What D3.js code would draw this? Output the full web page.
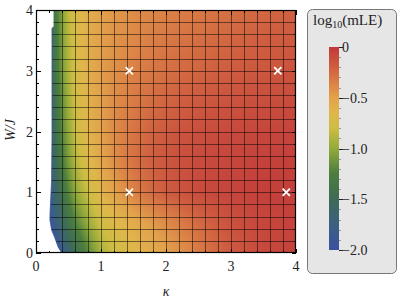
<!DOCTYPE html>
<html><head><meta charset="utf-8">
<script src="https://cdn.jsdelivr.net/npm/d3@7"></script>
<style>body{margin:0;background:#fff}svg{display:block}</style>
</head><body><svg id="c" width="399" height="302"></svg>
<script>
// ---- data ----
const kappaNodes = [0.2,0.3,0.4,0.5,0.6,0.8,1.0,1.2,1.4,1.6,1.8,2.0,2.2,2.5,3.0,3.5,4.0];
const wNodes = [0,0.25,0.5,1,1.5,2,3,4];
const logMLE = [
  [-2.3,-2.05,-1.85,-1.65,-1.48,-1.2,-0.92,-0.8,-0.7,-0.62,-0.56,-0.5,-0.44,-0.33,-0.18,-0.09,-0.05],
  [-2.1,-1.88,-1.7,-1.52,-1.36,-1.1,-0.86,-0.74,-0.65,-0.58,-0.52,-0.46,-0.4,-0.3,-0.16,-0.08,-0.05],
  [-1.95,-1.78,-1.58,-1.4,-1.22,-0.98,-0.78,-0.68,-0.6,-0.53,-0.46,-0.4,-0.34,-0.25,-0.13,-0.07,-0.05],
  [-1.82,-1.62,-1.4,-1.2,-1.02,-0.8,-0.62,-0.5,-0.4,-0.32,-0.25,-0.19,-0.15,-0.1,-0.06,-0.04,-0.03],
  [-1.72,-1.52,-1.28,-1.08,-0.9,-0.68,-0.53,-0.42,-0.33,-0.26,-0.2,-0.16,-0.13,-0.1,-0.07,-0.05,-0.04],
  [-1.65,-1.45,-1.2,-1.0,-0.82,-0.62,-0.5,-0.4,-0.33,-0.27,-0.22,-0.18,-0.15,-0.12,-0.09,-0.07,-0.06],
  [-1.55,-1.35,-1.1,-0.9,-0.75,-0.58,-0.48,-0.42,-0.38,-0.34,-0.31,-0.28,-0.26,-0.23,-0.19,-0.16,-0.14],
  [-1.5,-1.3,-1.05,-0.85,-0.72,-0.58,-0.5,-0.46,-0.43,-0.4,-0.38,-0.36,-0.34,-0.32,-0.28,-0.24,-0.21]
];
// left edge of the computed region: W values and the kappa where data begins
const edgeW = [0, 0.1, 0.25, 0.38, 0.54, 0.63, 1.2, 1.9, 3.7, 3.72, 4];
const edgeK = [0.395, 0.34, 0.29, 0.24, 0.215, 0.215, 0.24, 0.246, 0.246, 0.27, 0.27];
const markerK = [1.435, 3.72, 1.435, 3.85];
const markerW = [3, 3, 1, 1];
const axisTicks = [0, 1, 2, 3, 4];
const barTicks = [0, -0.5, -1.0, -1.5, -2.0];
const barLabels = ["0", "\u22120.5", "\u22121.0", "\u22121.5", "\u22122.0"];
const colorStops = [-2, -1.76, -1.5, -1.24, -1.0, -0.8, -0.64, -0.5, -0.36, -0.2, 0];
const colorRange = ["#3a52a2", "#3b5f82", "#3e6b56", "#4c7e3e", "#93aa3a", "#cdbd43", "#e0b64b", "#e2a24b", "#db8246", "#cf5e40", "#c1393a"];

// ---- scales ----
const svg = d3.select("#c");
const X0 = 36, X1 = 296, Y0 = 253, Y1 = 10;
const x = d3.scaleLinear().domain([0, 4]).range([X0, X1]);
const y = d3.scaleLinear().domain([0, 4]).range([Y0, Y1]);
const color = d3.scaleLinear().domain(colorStops).range(colorRange).interpolate(d3.interpolateRgb).clamp(true);
const edge = d3.scaleLinear().domain(edgeW).range(edgeK).clamp(true);

function locate(nodes, v) {
  let i = d3.bisectRight(nodes, v) - 1;
  i = Math.max(0, Math.min(nodes.length - 2, i));
  const t = Math.max(0, Math.min(1, (v - nodes[i]) / (nodes[i + 1] - nodes[i])));
  return [i, t];
}
function field(k, w) {
  const [i, tx] = locate(kappaNodes, k);
  const [j, ty] = locate(wNodes, w);
  const a = logMLE[j][i], b = logMLE[j][i + 1], c = logMLE[j + 1][i], d = logMLE[j + 1][i + 1];
  return (a * (1 - tx) + b * tx) * (1 - ty) + (c * (1 - tx) + d * tx) * ty;
}

// ---- density raster ----
const pw = X1 - X0, ph = Y0 - Y1;
const cv = document.createElement("canvas");
cv.width = pw; cv.height = ph;
const ctx = cv.getContext("2d");
const img = ctx.createImageData(pw, ph);
for (let py = 0; py < ph; py++) {
  const w = y.invert(Y1 + py + 0.5);
  const ek = edge(w);
  for (let px = 0; px < pw; px++) {
    const k = x.invert(X0 + px + 0.5);
    const cov = Math.max(0, Math.min(1, (k - ek) * 65 + 0.5));
    if (cov <= 0) continue;
    const c = d3.rgb(color(field(k, w)));
    const o = (py * pw + px) * 4;
    img.data[o] = c.r; img.data[o + 1] = c.g; img.data[o + 2] = c.b; img.data[o + 3] = Math.round(cov * 255);
  }
}
ctx.putImageData(img, 0, 0);
svg.append("image").attr("x", X0).attr("y", Y1).attr("width", pw).attr("height", ph)
  .attr("href", cv.toDataURL());

// region clip
const regionPts = edgeW.map((w, i) => [x(edgeK[i]), y(w)]).concat([[X1, Y1], [X1, Y0]]);
svg.append("clipPath").attr("id", "reg").append("polygon").attr("points", regionPts.map(p => p.join(",")).join(" "));

// mesh
const mesh = svg.append("g").attr("clip-path", "url(#reg)").attr("stroke", "#000").attr("stroke-opacity", 0.5).attr("stroke-width", 1);
const meshVals = d3.range(1, 20).map(i => i * 0.2);
mesh.selectAll("line.v").data(meshVals).join("line").attr("class", "v")
  .attr("x1", d => Math.round(x(d)) + 0.5).attr("x2", d => Math.round(x(d)) + 0.5).attr("y1", Y1).attr("y2", Y0);
mesh.selectAll("line.h").data(meshVals).join("line").attr("class", "h")
  .attr("y1", d => Math.round(y(d)) + 0.5).attr("y2", d => Math.round(y(d)) + 0.5).attr("x1", X0).attr("x2", X1);

// edge line
svg.append("path").attr("d", d3.line()(edgeW.map((w, i) => [x(edgeK[i]), y(w)]).filter(p => p[1] > 25)))
  .attr("fill", "none").attr("stroke", "#3a55a0").attr("stroke-width", 1).attr("stroke-opacity", 0.8);

// markers
const mk = svg.append("g").attr("stroke", "#fff").attr("stroke-width", 1.8);
markerK.forEach((k, i) => {
  const cx = x(k), cy = y(markerW[i]), s = 3.6;
  mk.append("line").attr("x1", cx - s).attr("y1", cy - s).attr("x2", cx + s).attr("y2", cy + s);
  mk.append("line").attr("x1", cx - s).attr("y1", cy + s).attr("x2", cx + s).attr("y2", cy - s);
});

// frame and ticks
svg.append("rect").attr("x", X0 + 0.5).attr("y", Y1 + 0.5).attr("width", pw - 1).attr("height", ph - 1)
  .attr("fill", "none").attr("stroke", "#000").attr("stroke-width", 1.2);
const tk = svg.append("g").attr("stroke", "#000").attr("stroke-width", 1).attr("shape-rendering", "crispEdges");
const minorVals = d3.range(0, 21).map(i => i * 0.2);
minorVals.forEach(v => {
  const major = Math.abs(v - Math.round(v)) < 1e-6;
  const L = major ? 4.5 : 2.5;
  const xv = Math.round(x(v)) + 0.5, yv = Math.round(y(v)) + 0.5;
  tk.append("line").attr("x1", xv).attr("x2", xv).attr("y1", Y0).attr("y2", Y0 - L);
  tk.append("line").attr("x1", xv).attr("x2", xv).attr("y1", Y1).attr("y2", Y1 + L);
  tk.append("line").attr("y1", yv).attr("y2", yv).attr("x1", X0).attr("x2", X0 + L);
  tk.append("line").attr("y1", yv).attr("y2", yv).attr("x1", X1).attr("x2", X1 - L);
});
const font = "'Liberation Serif','DejaVu Serif',serif";
svg.append("g").selectAll("text").data(axisTicks).join("text")
  .attr("x", d => x(d)).attr("y", 271).attr("text-anchor", "middle")
  .attr("font-family", font).attr("font-size", 14).attr("fill", "#222").text(d => d);
svg.append("g").selectAll("text").data(axisTicks).join("text")
  .attr("x", 33).attr("y", d => y(d) + 5).attr("text-anchor", "end")
  .attr("font-family", font).attr("font-size", 14).attr("fill", "#222").text(d => d);
svg.append("text").attr("x", 166).attr("y", 296).attr("text-anchor", "middle")
  .attr("font-family", font).attr("font-style", "italic").attr("font-size", 14).attr("fill", "#222").text("\u03ba");
svg.append("text").attr("transform", "translate(15,130) rotate(-90)").attr("text-anchor", "middle")
  .attr("font-family", font).attr("font-style", "italic").attr("font-size", 14).attr("fill", "#222").text("W/J");

// legend
svg.append("rect").attr("x", 307.5).attr("y", 9.5).attr("width", 89).attr("height", 264).attr("rx", 5)
  .attr("fill", "#e6e6e6").attr("stroke", "#777").attr("stroke-width", 1);
const title = svg.append("text").attr("x", 313).attr("y", 24.5).attr("font-family", font).attr("font-size", 15).attr("fill", "#222");
title.append("tspan").text("log");
title.append("tspan").attr("font-size", 10).attr("dy", 3.5).text("10");
title.append("tspan").attr("dy", -3.5).text("(mLE)");

const by = d3.scaleLinear().domain([-2, 0]).range([250, 47]);
const grad = svg.append("defs").append("linearGradient").attr("id", "cb").attr("x1", 0).attr("y1", 1).attr("x2", 0).attr("y2", 0);
d3.range(0, 41).forEach(i => {
  const v = -2 + i * 0.05;
  grad.append("stop").attr("offset", i / 40).attr("stop-color", color(v));
});
svg.append("rect").attr("x", 329).attr("y", 47).attr("width", 10).attr("height", 203).attr("fill", "url(#cb)");
const bt = svg.append("g").attr("shape-rendering", "crispEdges");
d3.range(0, 21).forEach(i => {
  const v = -2 + i * 0.1;
  const major = i % 5 === 0;
  bt.append("line").attr("x1", 339).attr("x2", 339 + (major ? 4 : 2)).attr("y1", Math.round(by(v)) + 0.5).attr("y2", Math.round(by(v)) + 0.5)
    .attr("stroke", major ? "#222" : "#999").attr("stroke-width", 1);
});
svg.append("g").selectAll("text").data(barTicks).join("text")
  .attr("x", 342).attr("y", d => by(d) + 5)
  .attr("font-family", font).attr("font-size", 14).attr("fill", "#222").text((d, i) => barLabels[i]);
</script></body></html>
